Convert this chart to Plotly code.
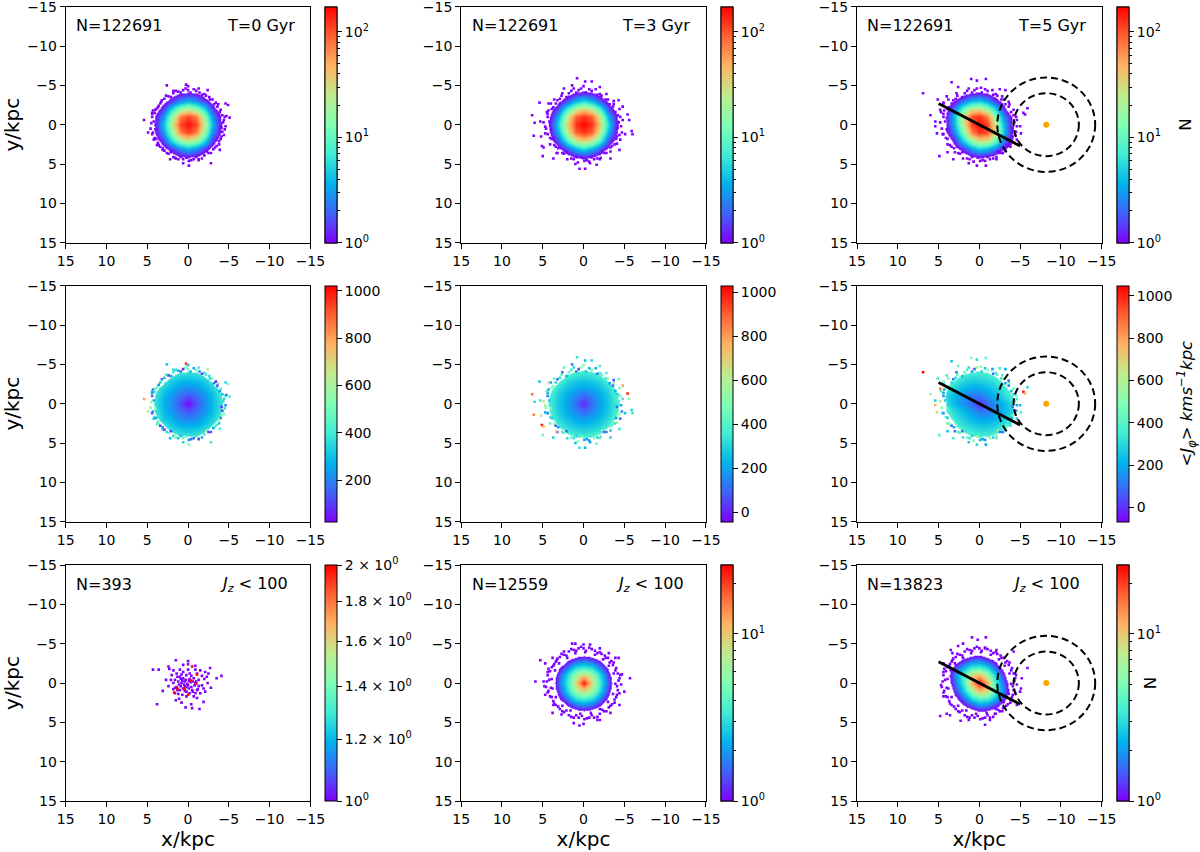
import plotly.graph_objects as go

# ---------- data ----------
heat_x = [5, 4, 3, 2, 1, 0, -1, -2, -3, -4, -5]
heat_y = [-5, -4, -3, -2, -1, 0, 1, 2, 3, 4, 5]
mask_x = [6, 5, 4, 3, 2, 1, 0, -1, -2, -3, -4, -5, -6]
mask_y = [-6, -5, -4, -3, -2, -1, 0, 1, 2, 3, 4, 5, 6]
axis_ticks = [15, 10, 5, 0, -5, -10, -15]

# log10(N) per kpc cell, rows y=-5..5, columns x=5..-5
n_t0 = [[-.5]*11,
 [-.5,-.5,-.5,-.15,.03,.08,.03,-.15,-.5,-.5,-.5],
 [-.5,-.5,-.08,.2,.45,.6,.45,.2,-.08,-.5,-.5],
 [-.5,-.15,.2,.8,1.25,1.42,1.25,.8,.2,-.15,-.5],
 [-.5,.03,.45,1.25,1.85,2.05,1.85,1.25,.45,.03,-.5],
 [-.5,.08,.6,1.42,2.05,2.2,2.05,1.42,.6,.08,-.5],
 [-.5,.03,.45,1.25,1.85,2.05,1.85,1.25,.45,.03,-.5],
 [-.5,-.15,.2,.8,1.25,1.42,1.25,.8,.2,-.15,-.5],
 [-.5,-.5,-.08,.2,.45,.6,.45,.2,-.08,-.5,-.5],
 [-.5,-.5,-.5,-.15,.03,.08,.03,-.15,-.5,-.5,-.5],
 [-.5]*11]
n_t3 = [[-.5,-.5,-.5,-.5,-.42,-.35,-.42,-.5,-.5,-.5,-.5],
 [-.5,-.5,-.4,-.1,.08,.15,.08,-.1,-.4,-.5,-.5],
 [-.5,-.4,-.03,.3,.6,.78,.6,.3,-.03,-.4,-.5],
 [-.5,-.1,.3,.95,1.42,1.58,1.42,.95,.3,-.1,-.5],
 [-.42,.08,.6,1.42,1.95,2.1,1.95,1.42,.6,.08,-.42],
 [-.35,.15,.78,1.58,2.1,2.22,2.1,1.58,.78,.15,-.35],
 [-.42,.08,.6,1.42,1.95,2.1,1.95,1.42,.6,.08,-.42],
 [-.5,-.1,.3,.95,1.42,1.58,1.42,.95,.3,-.1,-.5],
 [-.5,-.4,-.03,.3,.6,.78,.6,.3,-.03,-.4,-.5],
 [-.5,-.5,-.4,-.1,.08,.15,.08,-.1,-.4,-.5,-.5],
 [-.5,-.5,-.5,-.5,-.42,-.35,-.42,-.5,-.5,-.5,-.5]]
n_t5 = [[-.5]*11,
 [-.5,-.5,-.35,-.1,.05,.1,.02,-.18,-.5,-.5,-.5],
 [-.5,-.2,.05,.4,.62,.72,.5,.18,-.1,-.5,-.5],
 [-.5,-.05,.4,1.05,1.48,1.52,1.25,.72,.15,-.25,-.5],
 [-.5,.08,.65,1.48,2.0,2.1,1.85,1.15,.42,0,-.5],
 [-.5,.05,.62,1.42,2.05,2.2,2.05,1.42,.62,.05,-.5],
 [-.5,0,.42,1.15,1.85,2.1,2.0,1.48,.65,.08,-.5],
 [-.5,-.25,.15,.72,1.25,1.52,1.48,1.05,.4,-.05,-.5],
 [-.5,-.5,-.1,.18,.5,.72,.62,.4,.05,-.2,-.5],
 [-.5,-.5,-.5,-.18,.02,.1,.05,-.1,-.35,-.5,-.5],
 [-.5]*11]
# mean J_phi per kpc cell
j_t0 = [[600,560,530,500,475,470,475,500,530,560,600],
 [560,520,470,420,385,370,385,420,470,520,560],
 [530,470,400,330,295,285,295,330,400,470,530],
 [500,420,330,270,225,210,225,270,330,420,500],
 [475,385,295,225,165,130,165,225,295,385,475],
 [470,370,285,210,130,30,130,210,285,370,470],
 [475,385,295,225,165,130,165,225,295,385,475],
 [500,420,330,270,225,210,225,270,330,420,500],
 [530,470,400,330,295,285,295,330,400,470,530],
 [560,520,470,420,385,370,385,420,470,520,560],
 [600,560,530,500,475,470,475,500,530,560,600]]
j_t3 = [[580,540,510,480,455,450,455,480,510,540,580],
 [550,505,455,405,370,355,370,405,455,505,550],
 [515,455,385,315,280,270,280,315,385,455,515],
 [485,405,315,255,210,195,210,255,315,405,485],
 [460,370,280,210,150,110,150,210,280,370,460],
 [455,355,270,195,110,5,110,195,270,355,455],
 [460,370,280,210,150,110,150,210,280,370,460],
 [485,405,315,255,210,195,210,255,315,405,485],
 [515,455,385,315,280,270,280,315,385,455,515],
 [550,505,455,405,370,355,370,405,455,505,550],
 [580,540,510,480,455,450,455,480,510,540,580]]
j_t5 = [[590,550,520,490,465,460,470,500,530,570,610],
 [520,480,430,385,360,360,385,425,475,525,570],
 [470,420,360,300,275,280,300,340,405,475,530],
 [420,350,280,225,195,200,225,275,340,420,495],
 [380,290,220,150,110,115,170,230,300,385,470],
 [385,300,225,150,85,-10,85,150,225,300,385],
 [470,385,300,230,170,115,110,150,220,290,380],
 [495,420,340,275,225,200,195,225,280,350,420],
 [530,475,405,340,300,280,275,300,360,420,470],
 [570,525,475,425,385,360,360,385,430,480,520],
 [610,570,530,500,470,460,465,490,520,550,590]]
n_jz_t3 = [[-.5]*11,
 [-.5,-.5,-.5,-.38,-.25,-.2,-.25,-.38,-.5,-.5,-.5],
 [-.5,-.5,-.3,-.02,.13,.2,.13,-.02,-.3,-.5,-.5],
 [-.5,-.38,-.02,.25,.48,.55,.48,.25,-.02,-.38,-.5],
 [-.5,-.25,.13,.48,.8,.95,.8,.48,.13,-.25,-.5],
 [-.5,-.2,.2,.55,.95,1.38,.95,.55,.2,-.2,-.5],
 [-.5,-.25,.13,.48,.8,.95,.8,.48,.13,-.25,-.5],
 [-.5,-.38,-.02,.25,.48,.55,.48,.25,-.02,-.38,-.5],
 [-.5,-.5,-.3,-.02,.13,.2,.13,-.02,-.3,-.5,-.5],
 [-.5,-.5,-.5,-.38,-.25,-.2,-.25,-.38,-.5,-.5,-.5],
 [-.5]*11]
n_jz_t5 = [[-.5]*11,
 [-.5,-.5,-.45,-.28,-.2,-.15,-.25,-.42,-.5,-.5,-.5],
 [-.5,-.42,-.15,.05,.18,.22,.1,-.05,-.35,-.5,-.5],
 [-.5,-.25,.1,.35,.55,.58,.45,.18,-.08,-.42,-.5],
 [-.5,-.12,.25,.58,.95,1.05,.78,.42,.08,-.3,-.5],
 [-.5,-.2,.2,.55,1.05,1.38,1.05,.55,.2,-.2,-.5],
 [-.5,-.3,.08,.42,.78,1.05,.95,.58,.25,-.12,-.5],
 [-.5,-.42,-.08,.18,.45,.58,.55,.35,.1,-.25,-.5],
 [-.5,-.5,-.35,-.05,.1,.22,.18,.05,-.15,-.42,-.5],
 [-.5,-.5,-.5,-.42,-.25,-.15,-.2,-.28,-.45,-.5,-.5],
 [-.5]*11]

# outlying single-count cells
sp0_x = [2.6,.25,0,-1.3,-2.4,1.8,5.4,4.4,4,-4.6,-4.9,-5.1,-4.7,-4.5,4.9,4.2,3.8,3.1,.6,-.1,-1.3,-2.8,2.2,1.6,-3.9]
sp0_y = [-5,-5.1,-4.9,-4.6,-4.4,-4.3,-.6,-1.5,-1.9,-2.7,-2.5,-.9,-1.1,.6,1,1.9,2.6,3.2,4.9,5.2,4.5,4.9,4.4,4.2,3.2]
sp1_x = [.8,-.2,-1,2.4,1.4,-2,5.4,6.3,6,6.1,5.2,5.1,4.9,5,3.7,3.3,.5,-.2,-1.6,1,-5.9,-6,-5.6,-5.4,-5.1,-4.8,-4.3,-4.5,-4.4,-3.3,-2,-.8,4.3,5.3,4.7]
sp1_y = [-5.9,-5.5,-5.5,-4.6,-5,-4.8,-2.8,-1.2,-.25,1.4,1.5,2.7,2.9,4,4.3,3.6,5.6,5.6,5.1,5,.8,1.2,-.6,-1.3,1.2,-2.3,-3.1,1.9,3.2,4.3,4.4,4.9,-2.7,-.4,.25]
sp2_x = [6.9,1,.3,-.8,3.4,2.6,-2.5,-3.2,-5.9,-5.4,-5.6,6,5.1,5.4,5.4,5.2,4.9,3.9,3.2,1.3,.3,-.8,-2.1,-2.9,-3.8,-4.6,-5.1,-5,4.8,4,4.4]
sp2_y = [-4,-5.8,-5.6,-5.8,-5.4,-4.8,-4.5,-4.4,-2.1,-1.5,-1.3,-1.2,-3.2,-.4,.2,1.1,4,3.5,4.4,4.9,5.2,5.2,4.4,3.6,2.8,1.9,1.1,.2,-1.9,-3.6,-2.8]
sp7_x = [1.4,1,0,-.8,2.4,3.8,4.7,5.3,-2,-3.1,-3.9,-4.3,-4.7,-5.7,-5,-4.4,-3.3,-2,-1.7,0,.5,1.2,2.7,3.8,4.7,5.9,4.9,4.8,3.7]
sp7_y = [-5,-5,-4.9,-4.9,-4,-3.2,-2.5,-2.9,-4.4,-3.8,-3.2,-3.2,-1.1,-.6,1.1,2.8,3.8,4.7,4.7,5.2,5.4,5.1,4,3.8,1.5,-.2,-.2,.4,2.8]
sp8_x = [.9,-.8,.2,2,2.6,3.5,3.3,-4.2,-5.9,-5.2,-5.1,-5,4.8,4,3.6,2.3,1.3,-.7,-1.3,-1.9,-2.9,-4.6,4.4,4.7,4.4,-2.1,-.7]
sp8_y = [-5.8,-5.8,-5.5,-5,-4.7,-4.2,-3.8,-4,-1.9,-.6,.7,1.1,4.2,3.9,4.1,4.8,4.7,5.3,4.7,3.9,3.2,2.8,-2.5,.25,1.7,-4.2,-4.4]
# fuzzy rims
rim1_x = [3.3,2.4,1.2,0,-1.4,-2.6,-3.4,-4,-4.4,-4.2,-3.8,-3.1,-2,-.7,.6,1.8,2.9,3.7,4.3,4.5,4.1,3.6]
rim1_y = [-2.9,-3.6,-4.2,-4.4,-4.1,-3.5,-2.8,-1.9,-.6,.9,2.1,3.1,3.9,4.4,4.4,4.1,3.3,2.3,1,-.2,-1.5,-2.4]
rim2_x = [3.6,2.6,1.2,0,-1.5,-2.8,-3.7,-4.4,-4.8,-4.7,-4.1,-3.3,-2.1,-.7,.7,2,3.2,4.1,4.7,4.9,4.5,4]
rim2_y = [-3.2,-4,-4.6,-4.9,-4.5,-3.9,-3,-2,-.6,1,2.4,3.4,4.2,4.7,4.8,4.4,3.6,2.5,1.1,-.3,-1.6,-2.7]
rim3_x = [3.8,2.8,1.3,-.2,-1.6,-2.8,-3.6,-4.2,-4.6,-4.5,-4,-3.2,-2.1,-.7,.7,2,3,3.9,4.5,4.8,4.7,4.4]
rim3_y = [-3.2,-4,-4.6,-4.7,-4.4,-3.6,-2.9,-1.9,-.6,.9,2.2,3.3,4.1,4.6,4.7,4.3,3.5,2.5,1.2,-.3,-1.6,-2.7]
rim4_x = [4.4,4.6,3.9,3.4,2.4,1.2,-.1,-1.3,-2.5,-3.5,-4.1,-4.6,-4.2,-3.6,-3,-2,-.7,.6,1.8,2.9,3.7,4.3]
rim4_y = [-1,.5,1.8,2.8,3.7,4.4,4.6,4.4,3.6,2.7,1.5,.2,-1.2,-2.3,-3.2,-3.9,-4.5,-4.4,-4,-3.3,-2.2,-1.8]
rim5_x = [4.2,4,4.4,4.1,3.6,3.1,2.6,2.1,1.5,.9,.2,-.4,-1,-1.7,-2.3,-2.8,-3.3,-3.8,-4,-4.4,-4.1,-4.3,-4.5,-3.9,-3.7,-3.2,-2.7,-2.2,-1.7,-1,-.3,.3,.9,1.5,2.1,2.7,3.2,3.4,3.9,4.4]
rim5_y = [-.4,.6,1.2,1.7,2.6,3,3.6,3.5,4.3,4.1,4.2,4.5,4.1,4.3,3.4,3.6,2.9,2.5,1.8,1.3,.4,-.3,-1,-1.6,-2.6,-2.6,-3.2,-3.7,-3.8,-4.3,-4.1,-4.6,-4.1,-4.3,-3.5,-3.7,-3.1,-2.7,-2,-1.4]
rim_in_x = [3,2,1,-.2,-1.4,-2.4,-3.1,-3.7,-3.9,-3.6,-3,-2,-.9,.4,1.6,2.6,3.4,3.8,3.9,3.5]
rim_in_y = [-2.5,-3.2,-3.8,-3.9,-3.6,-3,-2.2,-1.2,.1,1.4,2.4,3.3,3.8,3.9,3.5,2.9,1.8,.7,-.5,-1.6]
# J_phi of the outlying cells
j_sp0 = [330,950,300,420,620,360,800,260,470,340,540,410,180,380,620,310,450,240,350,520,120,400,290,570,430]
j_sp1 = [330,260,300,440,180,380,280,880,330,850,640,1000,760,450,300,820,310,230,420,250,310,340,520,1000,260,780,430,130,370,300,450,210,680,340,520]
j_sp2 = [1040,480,310,390,250,430,340,210,300,1000,790,560,340,280,760,680,420,240,350,270,300,190,440,150,320,260,410,240,880,360,520]
j_rim = [430,120,300,520,210,380,90,460,340,150,560,260,410,180,490,330,100,440,250,600,370,200]
j_rim4 = [170,510,280,90,440,330,230,560,120,390,470,210,300,150,530,360,250,80,420,310,490,200]
j_rim5 = [260,480,130,390,540,220,340,90,450,300,510,170,380,270,610,140,430,320,210,500,110,360,460,240,570,190,330,420,100,490,280,530,160,370,240,450,120,310,520,210]

# Jz<100, T=0: individual cells
jz0_x = [4.3,3.6,1.5,0,0,2.4,2.3,-.9,-2.7,-2.1,-2.5,-4.1,-3.5,2.7,2.1,2.4,3.1,3.8,1.6,1.5,1.1,.8,.3,-.4,-.5,-1.4,-1.9,-1.1,-2.1,-2.8,-2.4,-2,1.8,1.4,1,.6,-.9,-1.5,-2.3,
 1,.6,.2,-.2,-.7,.4,.8,1.2,1.6,0,-.4,-.9,-1.3,-1.7,.6,1,.2,-.2,-1.1,-1.5,-.7,1.4,1.8,2,.6,0,-1.1,-1.7,.4,-.2,.8,1.3,-.6,-1.3,-1.9,1.8,1.2,.7,.2,-.9,
 .1,.5,-.3,.9,-.5,.3,-.8,.7,-.1,1.1,-1,.4,-.4,.9,-.6,-1.2,1.3,1.6,-.1,.2]
jz0_y = [-1.7,-1.7,-2.9,-2.8,-2.4,-2.1,-1.8,-2.2,-1.9,-1.4,-1.2,-.9,-.6,-.4,-.4,.4,1,2.7,1.3,2.2,2,2.5,3.1,2.7,3.2,3.3,2.4,1.9,1.1,.6,0,-.5,-1.6,-1.2,-1.7,-2.3,-1.7,-1.6,-.8,
 -.8,-.6,-1,-1.2,-.6,-.2,0,-.2,-.4,.3,.5,0,-.4,.3,.7,.9,1.1,1.3,.9,1.3,1.7,.5,0,-1,-1.4,-1.7,-1.2,-.9,.4,-.5,-1.1,-.8,-.2,.4,.7,.8,1.4,1.5,1.7,1.3,
 .1,.2,-.1,.4,.9,-.4,.3,-.3,.7,.2,-.2,1,-.9,-.5,1.1,.8,.9,.6,-.3,.5]
jz0_red_x = [-.5,-1.1,-.4,-1,1.3,.5,1.7,0,.4]
jz0_red_y = [-2.1,-1.1,-.3,.1,.7,.7,1.2,1.5,.8]

minor_log = [.301,.477,.602,.699,.778,.845,.903,.954,1.301,1.477,1.602,1.699,1.778,1.845,1.903,1.954,2.301]
bar_x = [5, -5]
bar_y = [-2.7, 2.7]
sun_x = [-8.2]
sun_y = [0]
ring_radii = [4, 6]

# ---------- styling ----------
FONT = "DejaVu Sans"
W, H = 1200, 852
col_left = [65.7, 461.2, 857.0]
PW = 244.7
row_top = [6.7, 285.7, 565.0]
PH = 236.0
cbar_left = [325.0, 721.0, 1117.0]
NB = "\u00a0"

rainbow = [(0, "rgb(128,0,255)"), (.125, "rgb(64,98,250)"), (.25, "rgb(0,180,236)"),
           (.375, "rgb(64,236,212)"), (.5, "rgb(128,255,180)"), (.625, "rgb(191,236,142)"),
           (.75, "rgb(255,180,98)"), (.875, "rgb(255,98,50)"), (1, "rgb(255,0,0)")]
rainbow_cs = [[p, c] for p, c in rainbow]
CLEAR = "rgba(255,255,255,0)"
def heat_scale(low, cmin, cmax):
    t = (cmin - low) / (cmax - low)
    return [[0, CLEAR], [t, CLEAR]] + [[t + (1 - t) * p, c] for p, c in rainbow]
mask_scale = [[0, "white"], [.5, "white"], [.5, CLEAR], [1, CLEAR]]

fig = go.Figure()
annots = []
shapes = []

def axname(i):
    return ("x" + (str(i) if i > 1 else ""), "y" + (str(i) if i > 1 else ""))

for r in range(3):
    for c in range(3):
        i = r * 3 + c + 1
        common = dict(range=[15, -15], tickmode="array", tickvals=axis_ticks, ticks="outside", ticklen=5,
                      tickcolor="black", showline=True, mirror=True, linecolor="black", linewidth=1,
                      showgrid=False, zeroline=False, ticklabeloverflow="allow",
                      tickfont=dict(family=FONT, size=14, color="black"))
        xa = dict(common, domain=[col_left[c] / W, (col_left[c] + PW) / W], anchor=axname(i)[1])
        ya = dict(common, domain=[1 - (row_top[r] + PH) / H, 1 - row_top[r] / H], anchor=axname(i)[0])
        if r == 2:
            xa["title"] = dict(text="x/kpc", font=dict(family=FONT, size=20, color="black"), standoff=6)
        if c == 0:
            ya["title"] = dict(text="y/kpc", font=dict(family=FONT, size=20, color="black"), standoff=6)
        fig.update_layout(**{"xaxis" + (str(i) if i > 1 else ""): xa, "yaxis" + (str(i) if i > 1 else ""): ya})

def colorbar(c, r, cmin, cmax, tickvals, ticktext, title=None, minor=None):
    xn, yn = axname(r * 3 + c + 1)
    cy = 1 - (row_top[r] + PH / 2) / H
    base = dict(x=cbar_left[c] / W, xanchor="left", xpad=0, y=cy, yanchor="middle", ypad=0,
                thickness=12, thicknessmode="pixels", len=PH / H, lenmode="fraction",
                outlinecolor="black", outlinewidth=1, ticks="outside", tickcolor="black",
                tickfont=dict(family=FONT, size=14, color="black"))
    if minor:
        mv = [m for m in minor if cmin < m < cmax]
        fig.add_trace(go.Scatter(x=[None, None], y=[None, None], xaxis=xn, yaxis=yn, mode="markers", showlegend=False,
                                 marker=dict(color=[cmin, cmax], cmin=cmin, cmax=cmax, colorscale=rainbow_cs, showscale=True,
                                             colorbar=dict(base, tickmode="array", tickvals=mv, showticklabels=False, ticklen=3))))
    cb = dict(base, tickmode="array", tickvals=tickvals, ticktext=ticktext, ticklen=5)
    if title:
        cb["title"] = dict(text=title, side="right", font=dict(family=FONT, size=16.5, color="black"))
    fig.add_trace(go.Scatter(x=[None, None], y=[None, None], xaxis=xn, yaxis=yn, mode="markers", showlegend=False,
                             marker=dict(color=[cmin, cmax], cmin=cmin, cmax=cmax, colorscale=rainbow_cs, showscale=True, colorbar=cb)))

def heat(r, c, z, low, cmin, cmax):
    xn, yn = axname(r * 3 + c + 1)
    fig.add_trace(go.Heatmap(x=heat_x, y=heat_y, z=z, xaxis=xn, yaxis=yn, zsmooth="best", zmin=low, zmax=cmax,
                             colorscale=heat_scale(low, cmin, cmax), showscale=False, hoverinfo="skip"))

def mask(r, c, z):
    xn, yn = axname(r * 3 + c + 1)
    wide = [[-.5] * 13] + [[-.5] + row + [-.5] for row in z] + [[-.5] * 13]
    fig.add_trace(go.Heatmap(x=mask_x, y=mask_y, z=wide, xaxis=xn, yaxis=yn, zsmooth="best", zmin=-1, zmax=1,
                             colorscale=mask_scale, showscale=False, hoverinfo="skip"))

def dots(r, c, xs, ys, vals, cmin, cmax, size=2.6):
    xn, yn = axname(r * 3 + c + 1)
    fig.add_trace(go.Scatter(x=xs, y=ys, xaxis=xn, yaxis=yn, mode="markers", showlegend=False, hoverinfo="skip",
                             marker=dict(symbol="square", size=size, color=vals, cmin=cmin, cmax=cmax,
                                         colorscale=rainbow_cs, line=dict(width=0))))

LOG2 = ["10<sup>0</sup>", "10<sup>1</sup>", "10<sup>2</sup>"]
J_V = [0, 200, 400, 600, 800, 1000]

# row 1
top = 2.24
for c, (z, sx, sy, rx, ry) in enumerate([(n_t0, sp0_x, sp0_y, rim1_x, rim1_y), (n_t3, sp1_x, sp1_y, rim2_x, rim2_y), (n_t5, sp2_x, sp2_y, rim3_x, rim3_y)]):
    heat(0, c, z, -.5, 0, top)
    xs = rim5_x + rim4_x + rx + sx
    ys = rim5_y + rim4_y + ry + sy
    dots(0, c, xs, ys, [0] * len(xs), 0, top)
    labels = [t + NB * 3 for t in LOG2] if c == 2 else LOG2
    colorbar(c, 0, 0, top, [0, 1, 2], labels, title="N" if c == 2 else None, minor=minor_log)
# row 2
j_rng = [(24, 1022), (-43, 1030), (-67, 1047)]
for c, (z, m, sx, sy, rx, ry, vals) in enumerate([(j_t0, n_t0, sp0_x, sp0_y, rim1_x, rim1_y, j_sp0), (j_t3, n_t3, sp1_x, sp1_y, rim2_x, rim2_y, j_sp1), (j_t5, n_t5, sp2_x, sp2_y, rim3_x, rim3_y, j_sp2)]):
    lo, hi = j_rng[c]
    xn, yn = axname(3 + c + 1)
    fig.add_trace(go.Heatmap(x=heat_x, y=heat_y, z=z, xaxis=xn, yaxis=yn, zsmooth="best",
                             zmin=lo, zmax=hi, colorscale=rainbow_cs, showscale=False, hoverinfo="skip"))
    mask(1, c, m)
    dots(1, c, rim5_x + rim4_x + rx + sx, rim5_y + rim4_y + ry + sy, j_rim5 + j_rim4 + j_rim + vals, lo, hi)
    tv = [v for v in J_V if lo < v < hi]
    labels = [str(v) + (NB * 2 if c == 2 else "") for v in tv]
    colorbar(c, 1, lo, hi, tv, labels,
             title="&lt;<i>J<sub>φ</sub></i>&gt; <i>kms<sup>−1</sup>kpc</i>" if c == 2 else None)
# row 3
dots(2, 0, jz0_x, jz0_y, [0] * len(jz0_x), 0, .301)
dots(2, 0, jz0_red_x, jz0_red_y, [.301] * len(jz0_red_x), 0, .301)
colorbar(0, 2, 0, .301, [0, .079, .146, .204, .255, .301],
         ["10<sup>0</sup>", "1.2 × 10<sup>0</sup>", "1.4 × 10<sup>0</sup>", "1.6 × 10<sup>0</sup>", "1.8 × 10<sup>0</sup>", "2 × 10<sup>0</sup>"])
top3 = 1.413
for c, (z, sx, sy) in [(1, (n_jz_t3, sp7_x, sp7_y)), (2, (n_jz_t5, sp8_x, sp8_y))]:
    heat(2, c, z, -.5, 0, top3)
    xs = rim_in_x + rim5_x + rim4_x + rim1_x + sx
    ys = rim_in_y + rim5_y + rim4_y + rim1_y + sy
    dots(2, c, xs, ys, [0] * len(xs), 0, top3)
    labels = [t + NB * 7 for t in LOG2[:2]] if c == 2 else LOG2[:2]
    colorbar(c, 2, 0, top3, [0, 1], labels, title="N" if c == 2 else None, minor=minor_log)

# bar, rings, sun in the right-hand column
for r in range(3):
    i = r * 3 + 3
    xn, yn = axname(i)
    fig.add_trace(go.Scatter(x=bar_x, y=bar_y, xaxis=xn, yaxis=yn, mode="lines", showlegend=False, hoverinfo="skip",
                             line=dict(color="black", width=3)))
    for rad in ring_radii:
        shapes.append(dict(type="circle", xref=xn, yref=yn, x0=sun_x[0] - rad, x1=sun_x[0] + rad,
                           y0=sun_y[0] - rad, y1=sun_y[0] + rad, line=dict(color="black", width=2, dash="7px,4px")))
    fig.add_trace(go.Scatter(x=sun_x, y=sun_y, xaxis=xn, yaxis=yn, mode="markers", showlegend=False, hoverinfo="skip",
                             marker=dict(color="orange", size=6)))

# texts
left_txt = ["N=122691", "N=122691", "N=122691"]
right_txt = ["T=0 Gyr", "T=3 Gyr", "T=5 Gyr"]
bot_txt = ["N=393", "N=12559", "N=13823"]
JZ = "<i>J<sub>z</sub></i> &lt; 100"
for c in range(3):
    for txt, xp, yp, anc in [(left_txt[c], col_left[c] + 8.5, 25, "left"), (right_txt[c], col_left[c] + 231, 25, "right"),
                             (bot_txt[c], col_left[c] + 8.5, 584, "left"), (JZ, col_left[c] + 224.5, 584, "right")]:
        annots.append(dict(text=txt, x=xp / W, y=1 - yp / H, xref="paper", yref="paper", xanchor=anc, yanchor="middle",
                           showarrow=False, font=dict(family=FONT, size=16, color="black")))

fig.update_layout(width=W, height=H, margin=dict(l=0, r=0, t=0, b=0, autoexpand=False), paper_bgcolor="white", plot_bgcolor="white",
                  showlegend=False, annotations=annots, shapes=shapes, font=dict(family=FONT, color="black"))
fig.write_html("out.html", config={"displayModeBar": False}, post_script="document.body.style.margin='0';")
